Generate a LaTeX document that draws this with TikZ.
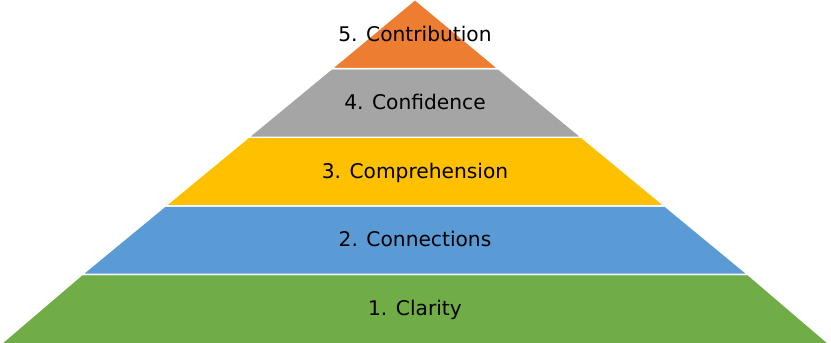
\documentclass[tikz,border=0pt]{standalone}
\usepackage{fontspec}
\setmainfont{DejaVu Sans}
\definecolor{lvlA}{HTML}{70AD47}
\definecolor{lvlB}{HTML}{5B9BD5}
\definecolor{lvlC}{HTML}{FFC000}
\definecolor{lvlD}{HTML}{A5A5A5}
\definecolor{lvlE}{HTML}{ED7D31}
\tikzset{
  layer/.style={draw=white, line width=1.4pt, line join=miter},
  lbl/.style={anchor=base, inner sep=0pt, font=\fontsize{20.2}{23}\selectfont, text=black}
}
\begin{document}
\begin{tikzpicture}[x=1pt,y=-1pt]
\useasboundingbox (0,0) rectangle (831,343);
% layers (apex 415, base 1..829)
\fill[white] (0,0) rectangle (831,343);
\filldraw[layer, fill=lvlA] (82.2,274.4) -- (747.8,274.4) -- (829,343.8) -- (1,343.8) -- cycle;
\filldraw[layer, fill=lvlB] (165.4,205.8) -- (664.6,205.8) -- (747.8,274.4) -- (82.2,274.4) -- cycle;
\filldraw[layer, fill=lvlC] (248.6,137.2) -- (581.4,137.2) -- (664.6,205.8) -- (165.4,205.8) -- cycle;
\filldraw[layer, fill=lvlD] (331.8,68.6) -- (498.2,68.6) -- (581.4,137.2) -- (248.6,137.2) -- cycle;
\filldraw[layer, fill=lvlE] (415,-0.5) -- (498.2,68.6) -- (331.8,68.6) -- cycle;
% labels
\node[lbl] (t5) at (415,41) {5. Contribution};
\node[lbl] (t4) at (415,109.6) {4. Confidence};
\node[lbl] (t3) at (415,178.2) {3. Comprehension};
\node[lbl] (t2) at (415,246.8) {2. Connections};
\node[lbl] (t1) at (415,315.4) {1. Clarity};
\end{tikzpicture}
\end{document}
